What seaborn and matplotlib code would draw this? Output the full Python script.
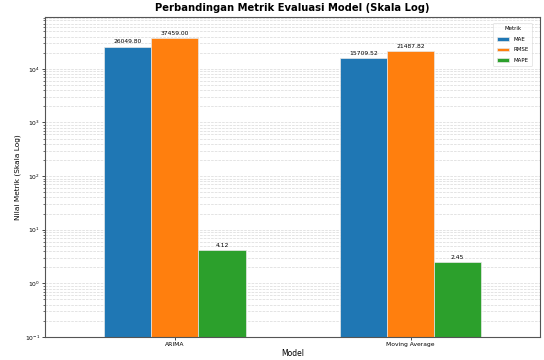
import matplotlib
matplotlib.use("Agg")
import matplotlib.pyplot as plt
import seaborn as sns
import pandas as pd

models = ["ARIMA", "Moving Average"]
metrics = ["MAE", "RMSE", "MAPE"]
mae = [26049.80, 15709.52]
rmse = [37459.00, 21487.82]
mape = [4.12, 2.45]

rows = []
for i, m in enumerate(models):
    rows.append((m, "MAE", mae[i]))
    rows.append((m, "RMSE", rmse[i]))
    rows.append((m, "MAPE", mape[i]))
df = pd.DataFrame(rows, columns=["Model", "Metrik", "Nilai"])

plt.rcParams['font.family'] = ['DejaVu Sans']
fig, ax = plt.subplots(figsize=(5.44, 3.6), dpi=100)
palette = ["#1f77b4", "#ff7f0e", "#2ca02c"]
sns.barplot(data=df, x="Model", y="Nilai", hue="Metrik", hue_order=metrics,
            palette=palette, width=0.6, ax=ax, saturation=1,
            edgecolor="#e8e8e8", linewidth=0.5, log_scale=(False, True))
ax.set_yscale("log")
ax.set_ylim(0.1, 9.3e4)
ax.set_xlim(-0.55, 1.55)
ax.grid(True, which="both", axis="y", linestyle="--", linewidth=0.5, color="#c8c8c8", alpha=0.7)
ax.set_axisbelow(True)

for cont in ax.containers:
    ax.bar_label(cont, fmt="%.2f", fontsize=4.3, padding=1.5)

ax.set_title("Perbandingan Metrik Evaluasi Model (Skala Log)", fontsize=7.2, fontweight="bold", pad=4)
ax.set_xlabel("Model", fontsize=5.5, labelpad=1.5)
ax.set_ylabel("Nilai Metrik (Skala Log)", fontsize=5.3, labelpad=3)
ax.tick_params(axis="both", which="major", labelsize=4.3, length=2, width=0.5, pad=1.5)
ax.tick_params(axis="y", which="minor", length=1.2, width=0.4)
for s in ax.spines.values():
    s.set_color("#555555")
    s.set_linewidth(0.8)

leg = ax.legend(title="Metrik", loc="upper right", fontsize=4, title_fontsize=4,
                handlelength=2.3, handleheight=0.6, borderpad=0.6, labelspacing=1.0,
                handletextpad=0.8, bbox_to_anchor=(0.99, 0.99))
leg.get_frame().set_linewidth(0.4)

fig.subplots_adjust(left=0.083, right=0.993, top=0.953, bottom=0.064)
fig.savefig("out.png", dpi=100)
